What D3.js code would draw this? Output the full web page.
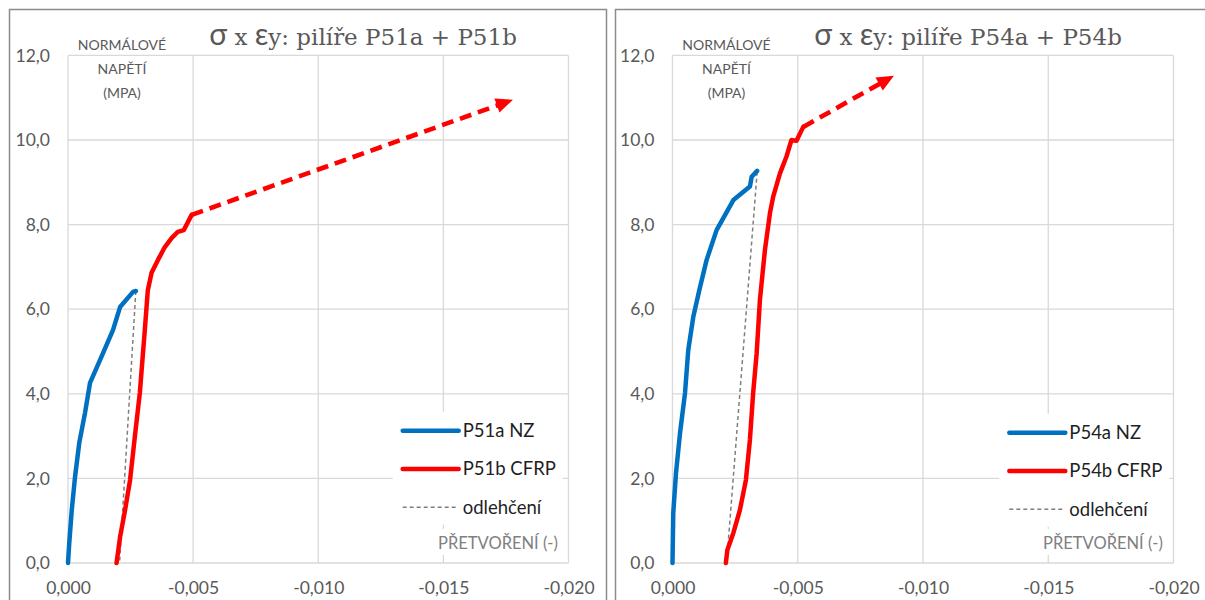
<!DOCTYPE html>
<html>
<head>
<meta charset="utf-8">
<script src="https://cdn.jsdelivr.net/npm/d3@7"></script>
<style>
  body { margin: 0; background: #fff; }
  svg { display: block; }
</style>
</head>
<body>
<svg id="chart" width="1205" height="600"></svg>
<script>
// Axis ticks
const strainTicks = [0, -0.005, -0.010, -0.015, -0.020];
const stressTicks = [0, 2, 4, 6, 8, 10, 12];

// Pillars P51a + P51b: [strain, stress MPa]
const p51aNZ = [
  [0, 0], [-0.00005, 0.47], [-0.00015, 1.25], [-0.00028, 2.03], [-0.00045, 2.84],
  [-0.00068, 3.55], [-0.00088, 4.26], [-0.0014, 4.96], [-0.0018, 5.51],
  [-0.00208, 6.05], [-0.0026, 6.41], [-0.00271, 6.43]
];
const p51bCFRP = [
  [-0.00194, 0], [-0.00208, 0.61], [-0.00228, 1.25], [-0.00248, 1.96], [-0.00267, 2.98],
  [-0.00287, 4.02], [-0.00307, 5.51], [-0.00319, 6.45], [-0.00334, 6.86], [-0.00359, 7.16],
  [-0.00387, 7.47], [-0.00414, 7.68], [-0.00439, 7.83], [-0.00463, 7.87], [-0.00494, 8.23]
];
const p51bTrend = [[-0.00494, 8.23], [-0.01778, 10.95]];
const p51Unload = [[-0.00271, 6.43], [-0.00206, 0]];

// Pillars P54a + P54b: [strain, stress MPa]
const p54aNZ = [
  [0, 0], [-0.00003, 1.18], [-0.00014, 2.13], [-0.0003, 3.07], [-0.0005, 4.02],
  [-0.00063, 5.04], [-0.00083, 5.82], [-0.00107, 6.45], [-0.00136, 7.16],
  [-0.00176, 7.87], [-0.00243, 8.58], [-0.00309, 8.90], [-0.00316, 9.13], [-0.00338, 9.27]
];
const p54bCFRP = [
  [-0.00213, 0], [-0.00219, 0.31], [-0.00243, 0.71], [-0.00269, 1.25], [-0.00293, 1.96],
  [-0.00309, 2.91], [-0.00322, 4.02], [-0.00336, 4.96], [-0.00349, 6.22], [-0.00369, 7.40],
  [-0.00389, 8.27], [-0.00402, 8.66], [-0.00429, 9.21], [-0.00455, 9.61], [-0.00475, 10.0],
  [-0.00495, 9.98], [-0.00522, 10.31]
];
const p54bTrend = [[-0.00522, 10.31], [-0.00884, 11.52]];
const p54Unload = [[-0.00338, 9.25], [-0.00216, 0]];

const panels = [
  {
    pillars: "P51a + P51b",
    names: ["P51a NZ", "P51b CFRP", "odlehčení"],
    nz: p51aNZ, cfrp: p51bCFRP, trend: p51bTrend, unload: p51Unload,
    frameX: 9.5, frameW: 597, x0: 68, x1: 568.5, titleX: 363,
    legendX: 402.7, legendY: 430.7, strainTitleX: 498
  },
  {
    pillars: "P54a + P54b",
    names: ["P54a NZ", "P54b CFRP", "odlehčení"],
    nz: p54aNZ, cfrp: p54bCFRP, trend: p54bTrend, unload: p54Unload,
    frameX: 615.5, frameW: 600, x0: 672.5, x1: 1173.5, titleX: 968,
    legendX: 1009.3, legendY: 432.7, strainTitleX: 1103
  }
];

const BLUE = "#0070C0", RED = "#FF0000", GREY = "#7f7f7f";
const GRID = "#d9d9d9", TEXT = "#595959";
const SANS = "Lato, 'Open Sans', sans-serif";
const SERIF = "'DejaVu Serif', 'Liberation Serif', serif";

const cz = d3.formatLocale({ decimal: ",", thousands: "\u00a0", grouping: [3], currency: ["", " Kč"], minus: "-" });
const fmtStrain = cz.format(".3f");
const fmtStress = cz.format(".1f");

const svg = d3.select("#chart");
svg.append("rect").attr("width", 1205).attr("height", 600).attr("fill", "#fff");

panels.forEach(p => {
  const g = svg.append("g");
  const x = d3.scaleLinear().domain([0, -0.020]).range([p.x0, p.x1]);
  const y = d3.scaleLinear().domain([0, 12]).range([563, 55.4]);

  // panel frame
  g.append("rect")
    .attr("x", p.frameX).attr("y", 9.5)
    .attr("width", p.frameW).attr("height", 620)
    .attr("fill", "none").attr("stroke", "#8c8c8c").attr("stroke-width", 1.5);

  // gridlines
  g.append("g").selectAll("line").data(stressTicks).join("line")
    .attr("x1", x(0)).attr("x2", x(-0.020))
    .attr("y1", d => y(d)).attr("y2", d => y(d))
    .attr("stroke", GRID).attr("stroke-width", 1.3);
  g.append("g").selectAll("line").data(strainTicks).join("line")
    .attr("x1", d => x(d)).attr("x2", d => x(d))
    .attr("y1", y(0)).attr("y2", y(12))
    .attr("stroke", GRID).attr("stroke-width", 1.3);

  // axes (labels only)
  const xa = g.append("g").attr("transform", `translate(0,${y(0)})`)
    .call(d3.axisBottom(x).tickValues(strainTicks).tickFormat(fmtStrain).tickSize(0).tickPadding(19));
  const ya = g.append("g").attr("transform", `translate(${p.x0},0)`)
    .call(d3.axisLeft(y).tickValues(stressTicks).tickFormat(fmtStress).tickSize(0).tickPadding(18));
  [xa, ya].forEach(a => {
    a.select(".domain").remove();
    a.selectAll("text").attr("fill", TEXT).style("font-family", SANS).style("font-size", "17.5px");
  });

  // title
  const t = g.append("text")
    .attr("x", p.titleX).attr("y", 45).attr("text-anchor", "middle")
    .attr("fill", TEXT)
    .style("font-family", SERIF)
    .style("font-size", "23px");
  t.append("tspan").style("font-size", "30px").style("font-family", SANS).text("σ");
  t.append("tspan").text(" x ");
  t.append("tspan").style("font-size", "30px").style("font-family", SANS).text("ε");
  t.append("tspan").text("y: pilíře " + p.pillars);

  // stress axis title
  const yt = g.append("text").attr("text-anchor", "middle").attr("fill", TEXT)
    .style("font-family", SANS).style("font-size", "14px");
  ["NORMÁLOVÉ", "NAPĚTÍ", "(MPA)"].forEach((s, i) => {
    yt.append("tspan").attr("x", p.x0 + 54).attr("y", 50 + i * 23.8).text(s);
  });

  const line = d3.line().x(d => x(d[0])).y(d => y(d[1])).curve(d3.curveLinear);

  // unloading
  g.append("path").datum(p.unload).attr("d", line)
    .attr("fill", "none").attr("stroke", GREY).attr("stroke-width", 1.5)
    .attr("stroke-dasharray", "4,3");

  // NZ pillar
  g.append("path").datum(p.nz).attr("d", line)
    .attr("fill", "none").attr("stroke", BLUE).attr("stroke-width", 4.5)
    .attr("stroke-linejoin", "round").attr("stroke-linecap", "round");

  // CFRP pillar
  g.append("path").datum(p.cfrp).attr("d", line)
    .attr("fill", "none").attr("stroke", RED).attr("stroke-width", 4.5)
    .attr("stroke-linejoin", "round").attr("stroke-linecap", "round");

  // CFRP trend with arrowhead
  const a = p.trend[0], b = p.trend[p.trend.length - 1];
  const ax = x(a[0]), ay = y(a[1]), bx = x(b[0]), by = y(b[1]);
  const len = Math.hypot(bx - ax, by - ay);
  const ux = (bx - ax) / len, uy = (by - ay) / len;
  const headL = 17, headW = 7.5;
  g.append("path")
    .attr("d", d3.line()([[ax, ay], [bx - ux * (headL - 3), by - uy * (headL - 3)]]))
    .attr("fill", "none").attr("stroke", RED).attr("stroke-width", 4.6)
    .attr("stroke-dasharray", "12,7");
  const bxh = bx - ux * headL, byh = by - uy * headL;
  g.append("path")
    .attr("d", d3.line()([[bx, by], [bxh - uy * headW, byh + ux * headW], [bxh + uy * headW, byh - ux * headW]]) + "Z")
    .attr("fill", RED);

  // legend
  const lg = g.append("g").attr("transform", `translate(${p.legendX},${p.legendY})`);
  lg.append("rect").attr("x", -10).attr("y", -19).attr("width", 170).attr("height", 113).attr("fill", "#fff");
  const styles = [
    { c: BLUE, w: 4.5, dash: null },
    { c: RED, w: 4.5, dash: null },
    { c: GREY, w: 1.5, dash: "4,3" }
  ];
  p.names.forEach((n, i) => {
    const yy = i * 38.3;
    lg.append("line").attr("x1", 0).attr("x2", 56).attr("y1", yy).attr("y2", yy)
      .attr("stroke", styles[i].c).attr("stroke-width", styles[i].w)
      .attr("stroke-linecap", styles[i].dash ? "butt" : "round")
      .attr("stroke-dasharray", styles[i].dash);
    lg.append("text").attr("x", 60).attr("y", yy).attr("dy", "0.35em")
      .attr("fill", "#1f1f1f").style("font-family", SANS).style("font-size", "18.5px")
      .text(n);
  });

  // strain axis title
  g.append("rect").attr("x", p.strainTitleX - 64).attr("y", 529).attr("width", 128).attr("height", 26).attr("fill", "#fff");
  g.append("text").attr("x", p.strainTitleX).attr("y", 549).attr("text-anchor", "middle")
    .attr("fill", "#808080").style("font-family", SANS).style("font-size", "16.5px")
    .text("PŘETVOŘENÍ (-)");
});
</script>
</body>
</html>
